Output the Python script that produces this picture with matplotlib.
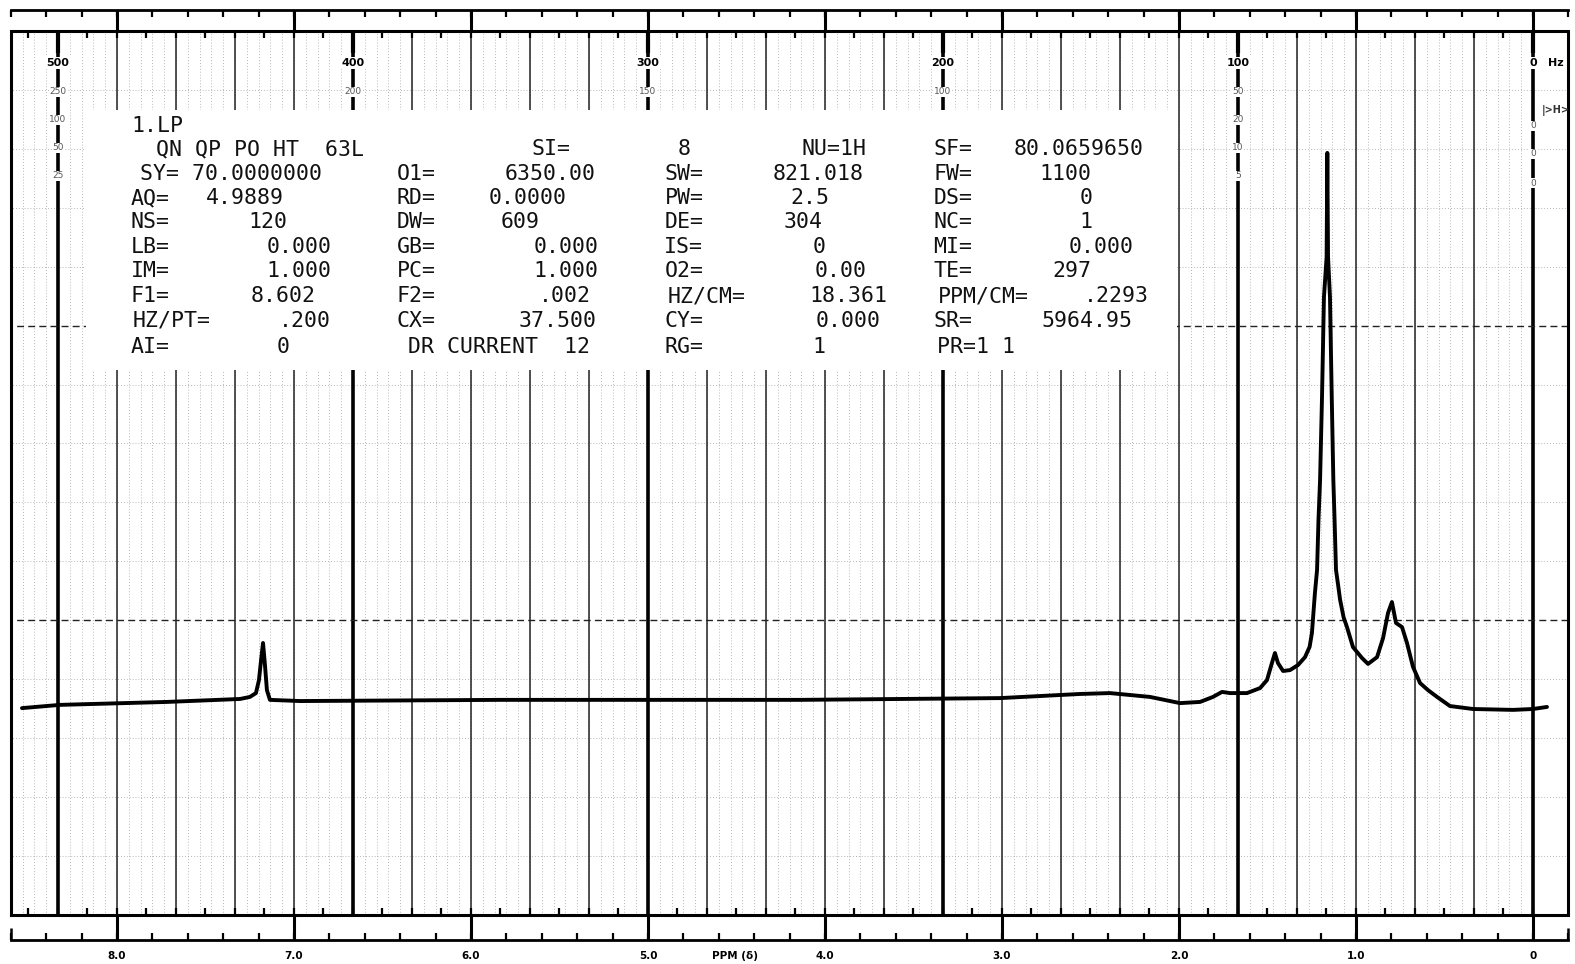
import matplotlib.pyplot as plt
import matplotlib.patches as patches
import numpy as np

W, H = 1575, 964
HZ_PER_PPM = 60.0

# pen trace: chemical shift (ppm) and pen height (chart units, 10 per major division)
ppm_trace = [8.537, 8.322, 7.718, 7.305, 7.249, 7.215, 7.198, 7.186, 7.175, 7.164,
             7.153, 7.136, 6.966, 5.836, 4.141, 3.011, 2.559, 2.390, 2.164, 1.994,
             1.881, 1.808, 1.757, 1.712, 1.616, 1.542, 1.503, 1.475, 1.458, 1.441,
             1.412, 1.373, 1.328, 1.288, 1.262, 1.249, 1.232, 1.220, 1.212, 1.203,
             1.192, 1.181, 1.166, 1.162, 1.158, 1.147, 1.137, 1.128, 1.121, 1.113,
             1.100, 1.090, 1.070, 1.051, 1.017, 0.966, 0.932, 0.881, 0.847, 0.819,
             0.797, 0.774, 0.740, 0.712, 0.678, 0.638, 0.593, 0.542, 0.469, 0.339,
             0.113, 0.000, -0.079]
height_trace = [7.02, 7.13, 7.23, 7.33, 7.40, 7.53, 7.97, 8.65, 9.23, 8.48,
                7.63, 7.30, 7.26, 7.30, 7.30, 7.36, 7.50, 7.53, 7.40, 7.19,
                7.23, 7.40, 7.57, 7.53, 7.53, 7.70, 7.97, 8.55, 8.89, 8.55,
                8.28, 8.31, 8.48, 8.75, 9.10, 9.57, 10.93, 11.71, 13.40, 14.76,
                17.58, 20.97, 22.33, 25.86, 22.33, 20.97, 17.58, 14.76, 13.40, 11.71,
                11.15, 10.70, 10.10, 9.77, 9.09, 8.72, 8.52, 8.75, 9.40, 10.25,
                10.62, 9.91, 9.77, 9.23, 8.42, 7.87, 7.63, 7.40, 7.09, 6.99,
                6.96, 6.99, 7.06]

ppm_ticks = [8, 7, 6, 5, 4, 3, 2, 1, 0]
ppm_tick_labels = ['8.0', '7.0', '6.0', '5.0', '4.0', '3.0', '2.0', '1.0', '0']
hz_ticks = [500, 400, 300, 200, 100, 0]
hz_tick_labels = ['500', '400', '300', '200', '100', '0']
offset_labels = [['250', '100', '50', '25'], ['200'], ['150'], ['100'], ['50', '20', '10', '5'], ['', '0', '0', '0']]

param_rows = [
    ['1.LP'],
    ['QN QP PO HT  63L', 'SI=', '8', 'NU=1H', 'SF=', '80.0659650'],
    ['SY= 70.0000000', 'O1=', '6350.00', 'SW=', '821.018', 'FW=', '1100'],
    ['AQ=', '4.9889', 'RD=', '0.0000', 'PW=', '2.5', 'DS=', '0'],
    ['NS=', '120', 'DW=', '609', 'DE=', '304', 'NC=', '1'],
    ['LB=', '0.000', 'GB=', '0.000', 'IS=', '0', 'MI=', '0.000'],
    ['IM=', '1.000', 'PC=', '1.000', 'O2=', '0.00', 'TE=', '297'],
    ['F1=', '8.602', 'F2=', '.002', 'HZ/CM=', '18.361', 'PPM/CM=', '.2293'],
    ['HZ/PT=', '.200', 'CX=', '37.500', 'CY=', '0.000', 'SR=', '5964.95'],
    ['AI=', '0', 'DR CURRENT  12', 'RG=', '1', 'PR=1 1'],
]
# layout of the parameter block (pixel centres)
param_x = [
    [157],
    [260, 551, 684, 834, 953, 1079],
    [231, 416, 550, 684, 818, 953, 1065],
    [150, 245, 416, 528, 684, 810, 953, 1086],
    [150, 268, 416, 520, 684, 803, 953, 1086],
    [150, 299, 416, 566, 683, 819, 953, 1101],
    [150, 299, 416, 566, 684, 841, 953, 1072],
    [150, 283, 416, 565, 707, 848, 983, 1116],
    [172, 305, 416, 558, 684, 848, 953, 1087],
    [150, 283, 499, 684, 819, 976],
]
row_y = [126, 149, 174, 198, 222, 247, 271, 296, 321, 347]


def fx(px):
    return px / W


def fy(py):
    return 1 - py / H


fig = plt.figure(figsize=(W / 100, H / 100), dpi=100, facecolor='white')
ax = fig.add_axes([0, 0, 1, 1])
ax.set_xlim(8.661, -0.2373)
ax.set_ylim(-1.6627, 31.048)
ax.axis('off')

left, right = 8.6, -0.2
top, bottom = 30.0, 0.0

# chart paper grid
hz_minor = np.arange(0, 517, 4)
ax.vlines(hz_minor / HZ_PER_PPM, bottom, top, color='#a0a0a0', lw=0.6,
          linestyles=(0, (1, 2.5)), zorder=1)
for yy in np.arange(2, 30, 2):
    if yy % 10:
        ax.hlines(yy, right, left, color='#a0a0a0', lw=0.6,
                  linestyles=(0, (1, 2.5)), zorder=1)
hz_thin = [h for h in range(20, 501, 20) if h % 100]
ax.vlines(np.array(hz_thin) / HZ_PER_PPM, bottom, top, color='#222222', lw=1.1, zorder=2)
ax.vlines(np.array(hz_ticks) / HZ_PER_PPM, bottom, top, color='black', lw=2.6, zorder=2)
ax.hlines([10, 20], right, left, color='#222222', lw=1.0, linestyles=(0, (5, 3)), zorder=2)

# frame
ax.plot([left, right, right, left, left], [bottom, bottom, top, top, bottom],
        color='black', lw=2.2, zorder=4, solid_joinstyle='miter')

# 10 Hz ticks on the frame
hz_ten = np.arange(0, 517, 10) / HZ_PER_PPM
ax.vlines(hz_ten, top - 0.25, top, color='black', lw=1.6, zorder=4)
ax.vlines(hz_ten, bottom, bottom + 0.25, color='black', lw=1.6, zorder=4)
ax.vlines(np.array(hz_ticks) / HZ_PER_PPM, top - 0.75, top, color='black', lw=3.0, zorder=4)

# ppm strips above and below the frame
strip_lo, strip_hi = -0.85, 30.71
ppm_minor = np.arange(-0.2, 8.61, 0.2)
for ys, sign in [(strip_lo, 1), (strip_hi, -1)]:
    ax.plot([left, right], [ys, ys], color='black', lw=2.0, clip_on=False, zorder=4)
    ax.vlines(ppm_minor, ys, ys + sign * 0.24, color='black', lw=1.6, zorder=4)
ax.vlines(ppm_ticks, strip_lo, bottom, color='black', lw=2.2, zorder=4)
ax.vlines(ppm_ticks, top, strip_hi, color='black', lw=2.2, zorder=4)
ax.vlines([left, right], strip_lo, strip_lo + 0.4, color='black', lw=1.8, zorder=4)

# spectrum
ax.plot(ppm_trace, height_trace, color='black', lw=2.8, solid_joinstyle='round',
        solid_capstyle='round', zorder=5)

# parameter block
fig.patches.append(patches.Rectangle((fx(86), fy(370)), (1177 - 86) / W, (370 - 110) / H,
                                     transform=fig.transFigure, facecolor='white',
                                     edgecolor='none', zorder=3))
for row, xs, yy in zip(param_rows, param_x, row_y):
    for txt, xx in zip(row, xs):
        fig.text(fx(xx), fy(yy), txt, ha='center', va='center', fontsize=15.5,
                 family='DejaVu Sans Mono', color='#111111', zorder=6)

# Hz labels on top, with the small offset scales under them
for hz, lab, subs in zip(hz_ticks, hz_tick_labels, offset_labels):
    xp = 1533 - 177 * hz / HZ_PER_PPM
    fig.text(fx(xp), fy(63), lab, ha='center', va='center', fontsize=8,
             fontweight='bold', color='black',
             bbox=dict(facecolor='white', edgecolor='none', pad=1.0), zorder=6)
    if hz in (500, 100):
        sub_y = [92, 120, 148, 176]
    elif hz == 0:
        sub_y = [110, 126, 154, 183]
    else:
        sub_y = [92]
    for s, yy in zip(subs, sub_y):
        if s:
            fig.text(fx(xp), fy(yy), s, ha='center', va='center', fontsize=6.5,
                     color='#555555',
                     bbox=dict(facecolor='white', edgecolor='none', pad=0.5), zorder=6)
fig.text(fx(1556), fy(63), 'Hz', ha='center', va='center', fontsize=8,
         fontweight='bold', color='black')
fig.text(fx(1556), fy(110), '|>H>', ha='center', va='center', fontsize=7,
         fontweight='bold', color='#333333')

# ppm labels at the bottom
for p, lab in zip(ppm_ticks, ppm_tick_labels):
    fig.text(fx(1533 - 177 * p), fy(956), lab, ha='center', va='center',
             fontsize=7.5, fontweight='bold', color='black')
fig.text(fx(735), fy(956), 'PPM (δ)', ha='center', va='center',
         fontsize=7.5, fontweight='bold', color='black')

fig.savefig('out.png', dpi=100, facecolor='white')
